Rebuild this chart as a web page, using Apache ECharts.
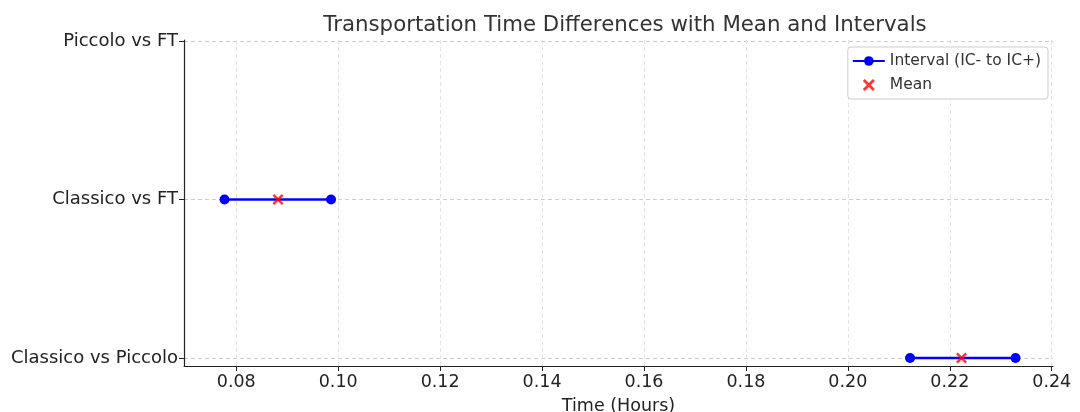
<!DOCTYPE html>
<html lang="en">
<head>
    <meta charset="UTF-8">
    <title>Transportation Time Differences</title>
    <style>
        html, body { margin: 0; padding: 0; background: #fff; }
    </style>
</head>
<body>
    <div id="main" style="width: 1080px;height:412px;"></div>
</body>
<script src="https://cdn.jsdelivr.net/npm/echarts@6/dist/echarts.min.js"></script>
<script type="text/javascript">
    // data
    var categories = ['Classico vs Piccolo', 'Classico vs FT', 'Piccolo vs FT'];
    var lowerIC = [0.2122, 0.0777, null];
    var upperIC = [0.2329, 0.0986, null];
    var means = [0.2223, 0.0882, null];
    var xTicks = [0.08, 0.10, 0.12, 0.14, 0.16, 0.18, 0.20, 0.22, 0.24];

    var FONT = 'DejaVu Sans';
    var crossPath = 'path://M0,1.6L1.6,0L5,3.4L8.4,0L10,1.6L6.6,5L10,8.4L8.4,10L5,6.6L1.6,10L0,8.4L3.4,5Z';

    var series = [];
    // one line series per comparison, same name so the legend shows one entry
    for (var i = 0; i < categories.length; i++) {
        if (lowerIC[i] == null) continue;
        series.push({
            name: 'Interval (IC- to IC+)',
            type: 'line',
            data: [[lowerIC[i], i], [upperIC[i], i]],
            symbol: 'circle',
            symbolSize: 10,
            lineStyle: { color: '#0000ff', width: 2.5 },
            itemStyle: { color: '#0000ff' },
            z: 2
        });
    }
    var meanData = [];
    for (var j = 0; j < categories.length; j++) {
        if (means[j] != null) meanData.push([means[j], j]);
    }
    series.push({
        name: 'Mean',
        type: 'scatter',
        data: meanData,
        symbol: crossPath,
        symbolSize: 11,
        itemStyle: { color: '#ff0000' },
        z: 3
    });

    var myChart = echarts.init(document.getElementById('main'));
    var option = {
        animation: false,
        textStyle: { fontFamily: FONT },
        title: {
            text: 'Transportation Time Differences with Mean and Intervals',
            left: 620,
            textAlign: 'center',
            top: 10,
            textStyle: { fontFamily: FONT, fontSize: 21.3, fontWeight: 'normal', color: '#333' }
        },
        legend: {
            right: 32,
            top: 47,
            orient: 'vertical',
            backgroundColor: '#fff',
            borderColor: '#cccccc',
            borderWidth: 1,
            borderRadius: 3,
            padding: [6, 7, 6, 4],
            itemGap: 8,
            itemWidth: 32,
            itemHeight: 12,
            textStyle: { fontFamily: FONT, fontSize: 15.5, color: '#333' },
            data: ['Interval (IC- to IC+)', 'Mean']
        },
        grid: { left: 184, right: 27, top: 40, bottom: 46, outerBoundsMode: 'none' },
        xAxis: {
            type: 'value',
            min: 0.06975,
            max: 0.24025,
            name: 'Time (Hours)',
            nameLocation: 'middle',
            nameGap: 31,
            nameTextStyle: { fontFamily: FONT, fontSize: 17.5, color: '#222' },
            axisLine: { onZero: false, lineStyle: { color: '#222', width: 1.2 } },
            axisTick: { show: true, length: 5, customValues: xTicks, lineStyle: { color: '#222' } },
            axisLabel: {
                customValues: xTicks,
                fontFamily: FONT, fontSize: 17.5, color: '#222', margin: 7,
                formatter: function (v) { return v.toFixed(2); }
            },
            splitLine: { show: true, lineStyle: { color: '#e3e3e3', type: [4, 3] } }
        },
        yAxis: {
            type: 'value',
            min: -0.05,
            max: 2.006,
            axisLine: { show: true, onZero: false, lineStyle: { color: '#222', width: 1.2 } },
            axisTick: { show: true, length: 5, customValues: [0, 1, 2], lineStyle: { color: '#222' } },
            axisLabel: {
                customValues: [0, 1, 2],
                fontFamily: FONT, fontSize: 18, color: '#222', margin: 6,
                formatter: function (v) { return categories[Math.round(v)] || ''; }
            },
            splitLine: { show: true, lineStyle: { color: '#cccccc', type: [4, 3] } }
        },
        series: series
    };
    myChart.setOption(option);
</script>
</html>
